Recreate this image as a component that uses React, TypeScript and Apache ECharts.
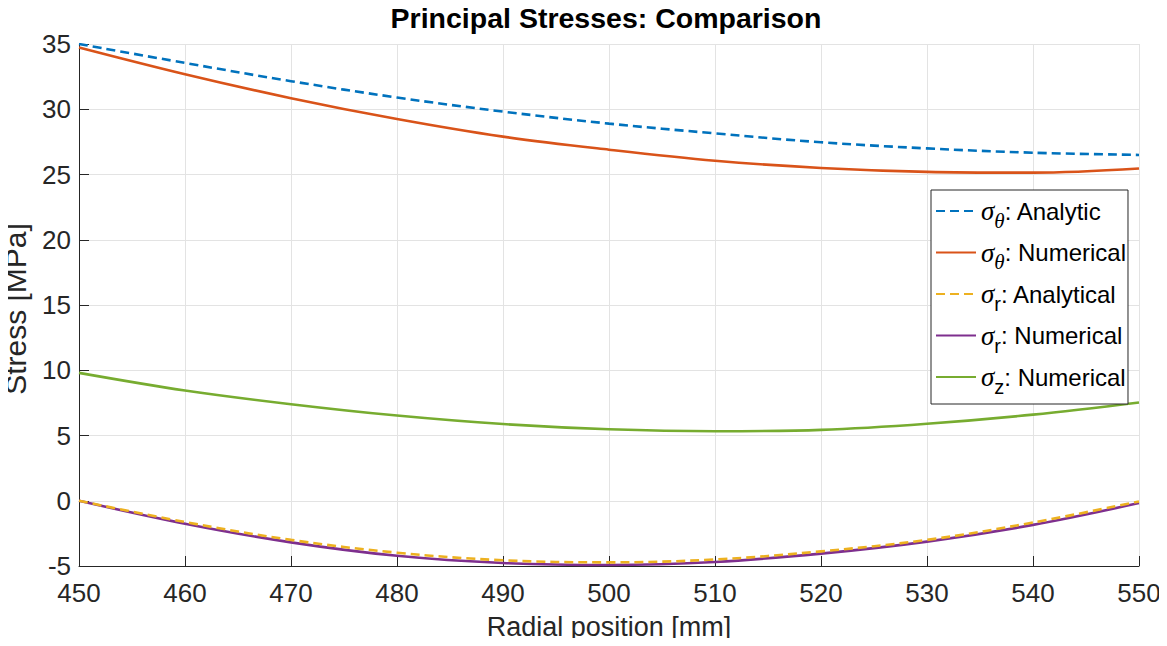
import React, { useEffect, useRef } from "react";
import * as echarts from "echarts";

const radialPositions = [450, 460, 470, 480, 490, 500, 510, 520, 530, 540, 550];
const sigmaThetaAnalytic = [35.0, 33.55, 32.15, 30.9, 29.82, 28.9, 28.15, 27.47, 27.0, 26.67, 26.5];
const sigmaThetaNumerical = [34.74, 32.69, 30.85, 29.25, 27.9, 26.9, 26.05, 25.5, 25.2, 25.14, 25.46];
const sigmaRAnalytical = [0, -1.63, -3.0, -3.98, -4.56, -4.72, -4.5, -3.88, -3.0, -1.67, -0.05];
const sigmaRNumerical = [0, -1.76, -3.19, -4.22, -4.77, -4.92, -4.69, -4.05, -3.13, -1.85, -0.18];
const sigmaZNumerical = [9.8, 8.45, 7.4, 6.53, 5.88, 5.48, 5.33, 5.43, 5.9, 6.6, 7.53];

const seriesDefs = [
  { name: "σθ: Analytic", data: sigmaThetaAnalytic, color: "#0072BD", dashed: true, sub: "θ", subItalic: true, label: ": Analytic" },
  { name: "σθ: Numerical", data: sigmaThetaNumerical, color: "#D95319", dashed: false, sub: "θ", subItalic: true, label: ": Numerical" },
  { name: "σr: Analytical", data: sigmaRAnalytical, color: "#EDB120", dashed: true, sub: "r", subItalic: false, label: ": Analytical" },
  { name: "σr: Numerical", data: sigmaRNumerical, color: "#7E2F8E", dashed: false, sub: "r", subItalic: false, label: ": Numerical" },
  { name: "σz: Numerical", data: sigmaZNumerical, color: "#77AC30", dashed: false, sub: "z", subItalic: false, label: ": Numerical" },
];

const FONT = "'Liberation Sans', Arial, Helvetica, sans-serif";

export default function App() {
  const ref = useRef<HTMLDivElement>(null);
  useEffect(() => {
    if (!ref.current) return;
    const chart = echarts.init(ref.current, undefined, { renderer: "svg" });
    chart.setOption({
      animation: false,
      backgroundColor: "#ffffff",
      title: {
        text: "Principal Stresses: Comparison",
        left: 606,
        textAlign: "center",
        top: 3,
        padding: 0,
        textStyle: { fontFamily: FONT, fontWeight: "bold", fontSize: 28.5, color: "#000000" },
      },
      grid: { left: 79, right: 28, top: 44, bottom: 80, containLabel: false, outerBoundsMode: "none" },
      xAxis: {
        type: "value",
        min: 450,
        max: 550,
        interval: 10,
        name: "Radial position [mm]",
        nameLocation: "middle",
        nameGap: 47,
        nameMoveOverlap: false,
        nameTextStyle: { fontFamily: FONT, fontSize: 27, color: "#262626" },
        axisLine: { show: true, onZero: false, lineStyle: { color: "#262626", width: 1 } },
        axisTick: { show: true, inside: true, length: 10, lineStyle: { color: "#262626" } },
        axisLabel: { fontFamily: FONT, fontSize: 26, color: "#262626", margin: 14 },
        splitLine: { show: true, lineStyle: { color: "#e3e3e3", width: 1 } },
      },
      yAxis: {
        type: "value",
        min: -5,
        max: 35,
        interval: 5,
        name: "Stress [MPa]",
        nameLocation: "middle",
        nameGap: 49,
        nameMoveOverlap: false,
        nameTextStyle: { fontFamily: FONT, fontSize: 30, color: "#262626", padding: [0, 8, 0, 0] },
        axisLine: { show: true, onZero: false, lineStyle: { color: "#262626", width: 1 } },
        axisTick: { show: true, inside: true, length: 10, lineStyle: { color: "#262626" } },
        axisLabel: { fontFamily: FONT, fontSize: 26, color: "#262626", margin: 8 },
        splitLine: { show: true, lineStyle: { color: "#e3e3e3", width: 1 } },
      },
      legend: {
        orient: "vertical",
        left: 931,
        top: 190,
        padding: [1, 2, 7, 4],
        itemGap: 1.5,
        itemWidth: 40,
        itemHeight: 14,
        backgroundColor: "#ffffff",
        borderColor: "#262626",
        borderWidth: 1,
        borderRadius: 0,
        itemStyle: { opacity: 0 },
        data: seriesDefs.map((s) => s.name),
        formatter: (name: string) => {
          const d = seriesDefs.find((s) => s.name === name);
          if (!d) return name;
          return `{s|σ}{${d.subItalic ? "subi" : "sub"}|${d.sub}}{t|${d.label}}`;
        },
        textStyle: {
          fontFamily: FONT,
          fontSize: 24,
          color: "#000000",
          rich: {
            s: { fontFamily: "'Liberation Serif', serif", fontStyle: "italic", fontSize: 27, color: "#000000", lineHeight: 30 },
            subi: { fontFamily: "'Liberation Serif', serif", fontStyle: "italic", fontSize: 21, color: "#000000", padding: [19, 0, 0, 0], lineHeight: 21 },
            sub: { fontFamily: FONT, fontSize: 20, color: "#000000", padding: [20, 0, 0, 0], lineHeight: 20 },
            t: { fontFamily: FONT, fontSize: 24, color: "#000000", lineHeight: 30 },
          },
        },
      },
      series: seriesDefs.map((s) => ({
        name: s.name,
        type: "line",
        data: radialPositions.map((x, i) => [x, s.data[i]]),
        smooth: 0.35,
        symbol: "none",
        showSymbol: false,
        color: s.color,
        lineStyle: {
          color: s.color,
          width: 2.6,
          type: s.dashed ? [9, 5] : "solid",
        },
        z: s.dashed ? 3 : 2,
      })),
    });
    return () => chart.dispose();
  }, []);
  return <div ref={ref} style={{ width: 1167, height: 646, margin: -8 }} />;
}
